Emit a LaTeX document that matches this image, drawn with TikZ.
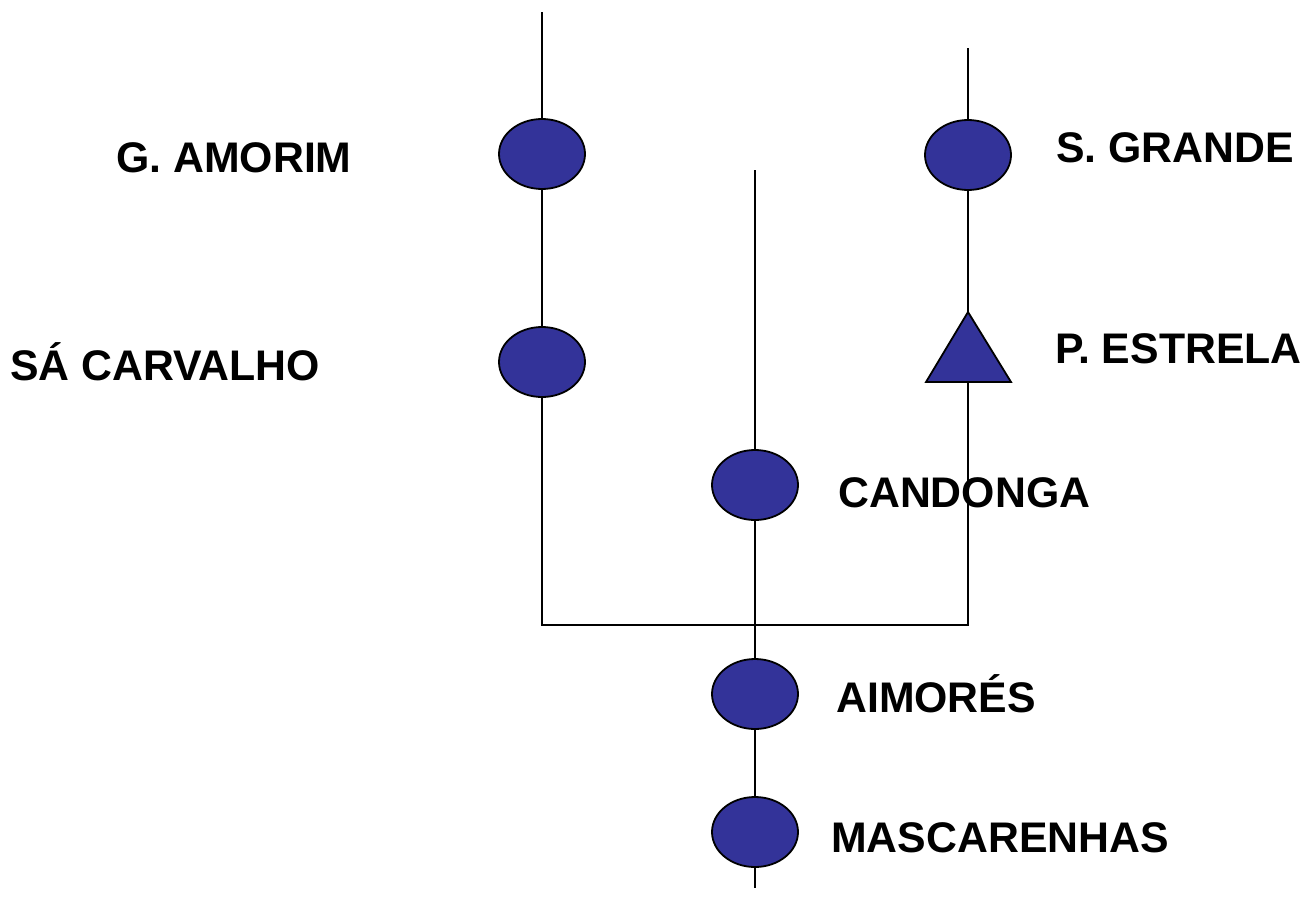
\documentclass[tikz,border=0pt]{standalone}
\usepackage{fontspec}
\setmainfont{Liberation Sans}
\usetikzlibrary{shapes.geometric}
\definecolor{plant}{HTML}{333399}
\begin{document}
\begin{tikzpicture}[x=1pt,y=-1pt,
  st/.style={ellipse, draw, line width=1.8pt, fill=plant, minimum width=86pt, minimum height=70pt, inner sep=0pt},
  lbl/.style={anchor=base west, font=\fontsize{42.8}{50}\selectfont\bfseries, inner sep=0pt},
  ln/.style={line width=1.6pt}]
\useasboundingbox (0,0) rectangle (1312,918);
% stations
\node[st] (ga) at (542,154) {};
\node[st] (sc) at (542,362) {};
\node[st] (sg) at (968,155) {};
\node[st] (ca) at (755,485) {};
\node[st] (ai) at (755,694) {};
\node[st] (ma) at (755,832) {};
% line ends
\coordinate (ltop) at (542,12);
\coordinate (rtop) at (968,48);
\coordinate (mtop) at (755,170);
\coordinate (mbot) at (755,888);
\coordinate (lc) at (542,625);
\coordinate (rc) at (968,625);
\coordinate (jn) at (755,625);
\coordinate (peA) at (968,312);
\coordinate (peB) at (968,382);
% connectors
\draw[ln] (ltop) -- (ga);
\draw[ln] (ga) -- (sc);
\draw[ln] (sc) -- (lc) -- (rc) -- (peB);
\draw[ln] (rtop) -- (sg);
\draw[ln] (sg) -- (peA);
\draw[ln] (mtop) -- (ca);
\draw[ln] (ca) -- (ai);
\draw[ln] (ai) -- (ma);
\draw[ln] (ma) -- (mbot);
% triangle P. Estrela
\draw[line width=1.8pt, fill=plant, line join=miter] (peA) -- (926,382) -- (1011,382) -- cycle;
% labels
\node[lbl] (lga) at (116,172) {G. AMORIM};
\node[lbl] (lsc) at (10,380) {SÁ CARVALHO};
\node[lbl] (lsg) at (1056,162) {S. GRANDE};
\node[lbl] (lpe) at (1055,363) {P. ESTRELA};
\node[lbl] (lca) at (838,507) {CANDONGA};
\node[lbl] (lai) at (836,712) {AIMORÉS};
\node[lbl] (lma) at (831,852) {MASCARENHAS};
\end{tikzpicture}
\end{document}
